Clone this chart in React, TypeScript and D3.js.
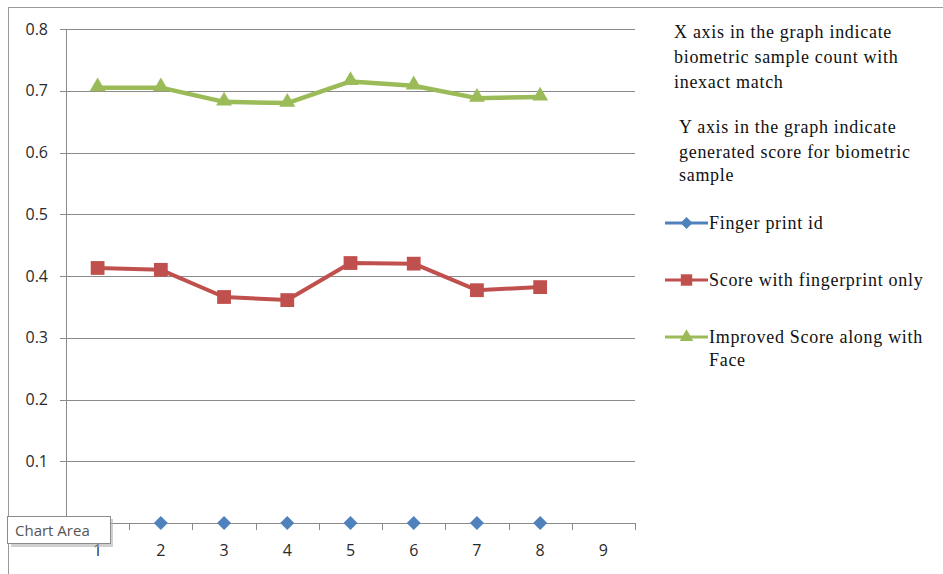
import React from "react";
import * as d3 from "d3";

const categories = ["1", "2", "3", "4", "5", "6", "7", "8", "9"];
const fingerPrintId = [0, 0, 0, 0, 0, 0, 0, 0];
const scoreFingerprint = [0.413, 0.41, 0.366, 0.361, 0.421, 0.42, 0.377, 0.382];
const scoreWithFace = [0.705, 0.705, 0.682, 0.68, 0.715, 0.708, 0.688, 0.69];
const yTicks = [0.1, 0.2, 0.3, 0.4, 0.5, 0.6, 0.7, 0.8];

const noteLines = [
  { text: "X axis in the graph indicate", dx: 0 },
  { text: "biometric sample count with", dx: 0 },
  { text: "inexact match", dx: 0 },
  { text: "Y axis in the graph indicate", dx: 5 },
  { text: "generated score for biometric", dx: 5 },
  { text: "sample", dx: 5 },
];
const noteY = [38, 63, 88, 133, 158, 181];

const W = 943;
const H = 574;
const plot = { left: 66, right: 635, top: 29, bottom: 523 };

const BLUE = "#4F81BD";
const RED = "#C0504D";
const GREEN = "#9BBB59";
const GRID = "#8a8a8a";

// diamond drawn as a square rotated by 45°
const diamondPath = (r: number) => `M0,${-r}L${r},0L0,${r}L${-r},0Z`;

export default function App() {
  const x = d3
    .scaleBand<string>()
    .domain(categories)
    .range([plot.left, plot.right])
    .paddingInner(0)
    .paddingOuter(0);
  const y = d3.scaleLinear().domain([0, 0.8]).range([plot.bottom, plot.top]);
  const cx = (i: number) => (x(categories[i]) as number) + x.bandwidth() / 2;

  const line = d3
    .line<number>()
    .x((_, i) => cx(i))
    .y((d) => y(d));

  const tri = d3.symbol().type(d3.symbolTriangle).size(110)() as string;
  const sq = d3.symbol().type(d3.symbolSquare).size(190)() as string;
  const dia = diamondPath(7);

  const bandEdges = d3.range(categories.length + 1).map((k) => plot.left + k * x.bandwidth());

  const legend = [
    { label: ["Finger print id"], color: BLUE, shape: diamondPath(6), y: 223 },
    { label: ["Score with fingerprint only"], color: RED, shape: d3.symbol().type(d3.symbolSquare).size(130)() as string, y: 280 },
    { label: ["Improved Score along with", "Face"], color: GREEN, shape: d3.symbol().type(d3.symbolTriangle).size(80)() as string, y: 337 },
  ];

  const axisFont = "'Open Sans', 'DejaVu Sans', sans-serif";
  const serif = "'Liberation Serif', 'DejaVu Serif', serif";

  return (
    <svg
      width={W}
      height={H}
      style={{ position: "absolute", left: 0, top: 0, background: "#fff" }}
    >
      <rect x={0} y={0} width={W} height={H} fill="#fff" />
      {/* chart area border */}
      <rect x={8.5} y={7.5} width={W + 20} height={H + 20} fill="none" stroke="#9a9a9a" strokeWidth={1} />

      {/* gridlines and y ticks */}
      {yTicks.map((t) => (
        <g key={t}>
          <line x1={plot.left - 6} x2={plot.right} y1={Math.round(y(t)) + 0.5} y2={Math.round(y(t)) + 0.5} stroke={GRID} strokeWidth={1} />
          <text
            x={48}
            y={y(t)}
            dy="0.35em"
            textAnchor="end"
            fontFamily={axisFont}
            fontSize={16}
            fill="#2a2a2a"
          >
            {t.toFixed(1)}
          </text>
        </g>
      ))}

      {/* axes */}
      <line x1={plot.left + 0.5} x2={plot.left + 0.5} y1={plot.top} y2={plot.bottom} stroke={GRID} />
      <line x1={plot.left - 6} x2={plot.right} y1={plot.bottom + 0.5} y2={plot.bottom + 0.5} stroke={GRID} />
      {bandEdges.map((e, i) => (
        <line key={i} x1={Math.round(e) + 0.5} x2={Math.round(e) + 0.5} y1={plot.bottom} y2={plot.bottom + 7} stroke={GRID} />
      ))}
      {categories.map((c, i) => (
        <text
          key={c}
          x={cx(i)}
          y={556}
          textAnchor="middle"
          fontFamily={axisFont}
          fontSize={16}
          fill="#2a2a2a"
        >
          {c}
        </text>
      ))}

      {/* series */}
      <path d={line(scoreFingerprint) as string} fill="none" stroke={RED} strokeWidth={4} strokeLinejoin="round" />
      <path d={line(scoreWithFace) as string} fill="none" stroke={GREEN} strokeWidth={4.5} strokeLinejoin="round" />

      {fingerPrintId.map((v, i) => (
        <path key={"b" + i} d={dia} transform={`translate(${cx(i)},${y(v)})`} fill={BLUE} />
      ))}
      {scoreFingerprint.map((v, i) => (
        <path key={"r" + i} d={sq} transform={`translate(${cx(i)},${y(v)})`} fill={RED} />
      ))}
      {scoreWithFace.map((v, i) => (
        <path key={"g" + i} d={tri} transform={`translate(${cx(i)},${y(v) - 1})`} fill={GREEN} />
      ))}

      {/* notes */}
      {noteLines.map((n, i) => (
        <text key={i} x={674 + n.dx} y={noteY[i]} fontFamily={serif} fontSize={18} letterSpacing={0.7} fill="#111">
          {n.text}
        </text>
      ))}

      {/* legend */}
      {legend.map((l) => (
        <g key={l.label[0]}>
          <line x1={665} x2={708} y1={l.y} y2={l.y} stroke={l.color} strokeWidth={3} />
          <path d={l.shape} transform={`translate(686.5,${l.y})`} fill={l.color} />
          {l.label.map((t, j) => (
            <text key={j} x={709} y={l.y + 6 + j * 23} fontFamily={serif} fontSize={18} letterSpacing={0.7} fill="#111">
              {t}
            </text>
          ))}
        </g>
      ))}

      {/* hover tooltip */}
      <rect x={11} y={519} width={102} height={28} fill="#b0b0b0" opacity={0.6} />
      <rect x={7.5} y={516.5} width={103} height={27} fill="#fff" stroke="#8c8c8c" />
      <text x={15} y={536} fontFamily={axisFont} fontSize={15} fill="#555">
        Chart Area
      </text>
    </svg>
  );
}
